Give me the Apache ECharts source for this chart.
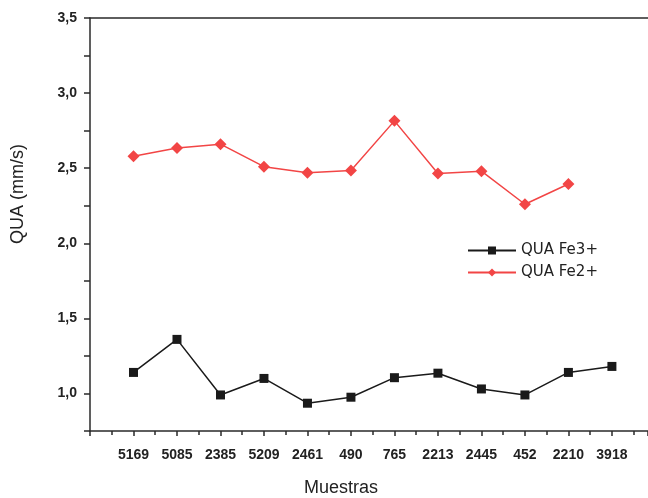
<!DOCTYPE html>
<html>
<head>
<meta charset="utf-8">
<script src="https://cdn.jsdelivr.net/npm/echarts@6/dist/echarts.min.js"></script>
<style>
  html, body { margin: 0; padding: 0; background: #fff; }
  #chart { width: 648px; height: 498px; }
</style>
</head>
<body>
<div id="chart"></div>
<script>
// muestras, en orden del eje x
var muestras = ['5169', '5085', '2385', '5209', '2461', '490', '765', '2213', '2445', '452', '2210', '3918'];
// QUA Fe3+ (mm/s)
var quaFe3 = [1.14, 1.36, 0.99, 1.10, 0.935, 0.975, 1.105, 1.135, 1.03, 0.99, 1.14, 1.18];
// QUA Fe2+ (mm/s), sin valor para 3918
var quaFe2 = [2.58, 2.635, 2.66, 2.51, 2.47, 2.485, 2.815, 2.465, 2.48, 2.26, 2.395];

function toPairs(arr) {
	return arr.map(function (v, i) { return [i + 1, v]; });
}

var chart = echarts.init(document.getElementById('chart'));
var font = 'Liberation Sans, Arial, sans-serif';
var wide = 'DejaVu Sans, sans-serif';

var option = {
	animation: false,
	backgroundColor: '#fff',
	grid: { left: 90, right: 0, top: 18, bottom: 67 },
	xAxis: [{
		type: 'value',
		min: 0,
		max: 12.83,
		interval: 1,
		axisLine: { lineStyle: { color: '#2a2a2a', width: 1.5 } },
		axisTick: { show: true, length: 5, lineStyle: { color: '#2a2a2a', width: 1.5 } },
		minorTick: { show: true, splitNumber: 2, length: 4, lineStyle: { color: '#2a2a2a', width: 1.5 } },
		splitLine: { show: false },
		axisLabel: {
			margin: 17,
			color: '#222',
			fontFamily: font,
			fontSize: 14,
			fontWeight: 'bold',
			showMaxLabel: false,
			formatter: function (v) {
				var i = Math.round(v);
				if (Math.abs(v - i) > 1e-6 || i < 1 || i > muestras.length) return '';
				return muestras[i - 1];
			}
		}
	}, {
		type: 'value',
		position: 'top',
		min: 0,
		max: 12.83,
		axisLine: { show: true, lineStyle: { color: '#2a2a2a', width: 1.5 } },
		axisTick: { show: false },
		axisLabel: { show: false },
		splitLine: { show: false }
	}],
	yAxis: {
		type: 'value',
		min: 0.75,
		max: 3.5,
		interval: 0.25,
		axisLine: { show: true, lineStyle: { color: '#2a2a2a', width: 1.5 } },
		axisTick: { show: true, length: 6, lineStyle: { color: '#2a2a2a', width: 1.5 } },
		splitLine: { show: false },
		axisLabel: {
			margin: 13,
			color: '#222',
			fontFamily: font,
			fontSize: 14,
			fontWeight: 'bold',
			formatter: function (v) {
				if (Math.abs(v * 2 - Math.round(v * 2)) > 1e-6) return '';
				return v.toFixed(1).replace('.', ',');
			}
		}
	},
	legend: {
		orient: 'vertical',
		left: 462,
		top: 238,
		itemWidth: 48,
		itemHeight: 10,
		itemGap: 7,
		textStyle: { color: '#222', fontFamily: wide, fontSize: 15 },
		data: ['QUA Fe3+', 'QUA Fe2+']
	},
	series: [{
		name: 'QUA Fe3+',
		type: 'line',
		data: toPairs(quaFe3),
		symbol: 'rect',
		symbolSize: 9,
		itemStyle: { color: '#1a1a1a' },
		lineStyle: { color: '#1a1a1a', width: 1.5 }
	}, {
		name: 'QUA Fe2+',
		type: 'line',
		data: toPairs(quaFe2),
		symbol: 'diamond',
		symbolSize: 12,
		itemStyle: { color: '#f24545' },
		lineStyle: { color: '#f24545', width: 1.5 }
	}],
	graphic: [{
		type: 'text',
		x: 18,
		y: 194,
		rotation: Math.PI / 2,
		style: {
			text: 'QUA (mm/s)',
			fill: '#222',
			font: '18px ' + font,
			align: 'center',
			verticalAlign: 'middle'
		}
	}, {
		type: 'text',
		x: 341,
		y: 488,
		style: {
			text: 'Muestras',
			fill: '#222',
			font: '18px ' + font,
			align: 'center',
			verticalAlign: 'middle'
		}
	}]
};
chart.setOption(option);
</script>
</body>
</html>
